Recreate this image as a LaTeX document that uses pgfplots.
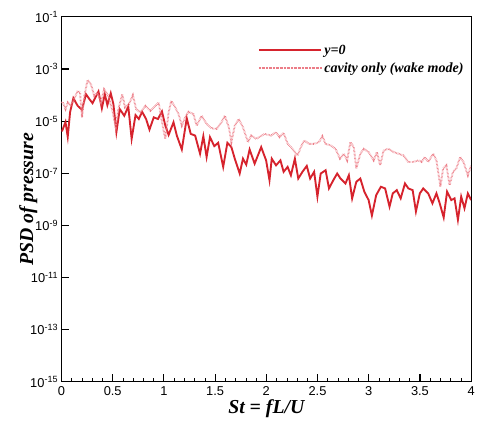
\documentclass[border=0pt]{standalone}
\usepackage{pgfplots}
\pgfplotsset{compat=1.18}
\usepackage{fontspec}
\setmainfont{Liberation Sans}
\newfontfamily\timesf{Liberation Serif}
\definecolor{solidred}{RGB}{214,35,45}
\definecolor{dotpink}{RGB}{236,125,135}
\begin{document}
\begin{tikzpicture}
\begin{axis}[
  scale only axis,
  width=413bp, height=368bp,
  ymode=log,
  xmin=0, xmax=4, ymin=1e-15, ymax=1e-1,
  xtick={0,0.5,1,1.5,2,2.5,3,3.5,4},
  xticklabels={0,0.5,1,1.5,2,2.5,3,3.5,4},
  minor x tick num=4,
  ytick={1e-1,1e-3,1e-5,1e-7,1e-9,1e-11,1e-13,1e-15},
  yticklabels={10\textsuperscript{-1},10\textsuperscript{-3},10\textsuperscript{-5},10\textsuperscript{-7},10\textsuperscript{-9},10\textsuperscript{-11},10\textsuperscript{-13},10\textsuperscript{-15}},
  yminorticks=false,
  tick align=inside,
  tick pos=left,
  major tick length=8bp,
  minor tick length=4bp,
  every tick/.style={black, line width=1.2pt},
  minor tick style={line width=0.6pt},
  axis line style={line width=1.2pt},
  ticklabel style={font=\fontsize{13}{15}\selectfont},
  xticklabel style={yshift=-1bp},
  xlabel={{\timesf\bfseries\itshape St = fL/U}},
  ylabel={{\timesf\bfseries\itshape PSD of pressure}},
  label style={font=\fontsize{20}{24}\selectfont},
  xlabel style={yshift=3bp},
  ylabel style={yshift=-14bp},
  legend style={at={(0.472,0.935)}, anchor=north west, draw=none, fill=none,
    font=\timesf\bfseries\itshape\fontsize{14.2}{17}\selectfont, row sep=3bp},
  legend cell align=left,
  legend image code/.code={\draw[#1] (0bp,0bp) -- (63bp,0bp);},
]
\addplot[solidred, line width=1.9pt] coordinates {
(0.000,4.3e-6) (0.007,4.3e-6) (0.039,9.3e-6) (0.061,2.5e-6) (0.084,2.23e-5) (0.116,7.6e-5) (0.158,3.87e-5) (0.200,2.73e-5) (0.239,1.08e-4) (0.278,6.55e-5) (0.303,4.91e-5) (0.361,1.37e-4) (0.394,3.08e-5) (0.423,1.08e-4) (0.448,4.12e-5) (0.481,1.18e-4) (0.507,4.5e-5) (0.536,3.77e-6) (0.569,2.9e-5) (0.613,1.61e-5) (0.652,3.67e-5) (0.685,2.09e-6) (0.723,1.71e-5) (0.755,1.21e-5) (0.787,2.29e-5) (0.826,1.21e-5) (0.859,4.73e-6) (0.901,1.4e-5) (0.942,1.21e-5) (0.981,2.37e-5) (1.014,6.71e-6) (1.046,2.98e-6) (1.094,9.05e-6) (1.126,2.8e-6) (1.175,8.2e-7) (1.223,1.29e-5) (1.262,3.25e-6) (1.305,2.8e-6) (1.353,5.64e-7) (1.385,2.65e-6) (1.417,4.22e-7) (1.450,2.43e-6) (1.492,1.1e-6) (1.530,1.48e-6) (1.579,1.76e-7) (1.620,1.48e-6) (1.659,1.01e-6) (1.692,3.64e-7) (1.740,9.8e-8) (1.772,3.64e-7) (1.804,2.15e-7) (1.837,8.2e-7) (1.886,2.34e-7) (1.950,1.01e-6) (1.998,3.13e-7) (2.031,5.43e-8) (2.053,3.64e-7) (2.095,2.02e-7) (2.138,3.13e-7) (2.169,1.14e-7) (2.208,1.76e-7) (2.240,8.4e-8) (2.279,3.64e-7) (2.312,6.3e-8) (2.353,1.14e-7) (2.395,1.92e-7) (2.428,6.3e-8) (2.467,1.14e-7) (2.499,1.27e-8) (2.531,9.8e-8) (2.579,1.31e-7) (2.612,2.63e-8) (2.654,5.43e-8) (2.692,9.8e-8) (2.724,6.3e-8) (2.773,4.07e-8) (2.806,8.4e-8) (2.838,1.09e-8) (2.879,4.72e-8) (2.918,6.3e-8) (2.957,1.97e-8) (2.999,9.4e-9) (3.031,2.4e-9) (3.073,1.46e-8) (3.119,3.05e-8) (3.160,2.63e-8) (3.203,5.28e-9) (3.235,1.69e-8) (3.274,2.26e-8) (3.312,1.09e-8) (3.354,4.07e-8) (3.387,2.63e-8) (3.429,2.26e-8) (3.461,3.41e-9) (3.499,1.69e-8) (3.532,2.63e-8) (3.581,1.69e-8) (3.622,7.06e-9) (3.661,1.69e-8) (3.693,7.06e-9) (3.732,2.02e-9) (3.765,1.97e-8) (3.806,9.4e-9) (3.838,1.09e-8) (3.871,1.64e-9) (3.903,1.27e-8) (3.935,4.56e-9) (3.968,1.69e-8) (4.000,9.4e-9)
};
\addlegendentry{y=0}
\addplot[dotpink, line width=1.9pt, dash pattern=on 0.55pt off 0.85pt] coordinates {
(0.000,5.2e-5) (0.013,5.21e-5) (0.039,2.9e-5) (0.061,5.21e-5) (0.094,3.87e-5) (0.158,1.44e-4) (0.181,1.25e-4) (0.200,1.4e-5) (0.223,9.3e-5) (0.255,3.78e-4) (0.288,2.59e-4) (0.320,9.3e-5) (0.352,1.25e-4) (0.385,5.21e-5) (0.416,1.67e-4) (0.458,9.3e-5) (0.497,2.5e-5) (0.530,5.83e-6) (0.555,2.9e-5) (0.594,1.08e-4) (0.620,3.37e-5) (0.659,4.5e-5) (0.697,9.9e-5) (0.729,2.9e-5) (0.772,2.17e-5) (0.820,3.87e-5) (0.869,2.5e-5) (0.917,3.87e-5) (0.949,5.21e-5) (0.988,6.71e-6) (1.014,2.09e-6) (1.046,2.17e-5) (1.072,6.0e-5) (1.111,3.37e-5) (1.143,1.87e-5) (1.175,6.71e-6) (1.208,1.4e-5) (1.240,2.29e-5) (1.288,1.87e-5) (1.320,6.71e-6) (1.368,1.61e-5) (1.417,7.8e-6) (1.465,5.35e-6) (1.514,5.04e-6) (1.562,9.05e-6) (1.595,1.61e-5) (1.634,5.83e-6) (1.659,1.57e-6) (1.692,6.71e-6) (1.731,1.21e-5) (1.772,5.83e-6) (1.821,1.57e-6) (1.853,2.8e-6) (1.901,2.09e-6) (1.956,2.8e-6) (1.983,3.25e-6) (2.046,2.8e-6) (2.095,3.77e-6) (2.128,2.43e-6) (2.169,3.55e-6) (2.208,1.35e-6) (2.240,1.01e-6) (2.279,6.53e-7) (2.305,4.85e-7) (2.337,1.01e-6) (2.370,1.81e-6) (2.418,1.35e-6) (2.467,1.35e-6) (2.515,1.57e-6) (2.547,2.65e-6) (2.579,1.35e-6) (2.628,1.17e-6) (2.676,8.7e-7) (2.719,3.64e-7) (2.757,5.64e-7) (2.789,3.13e-7) (2.821,1.57e-6) (2.854,1.01e-6) (2.879,1.51e-7) (2.918,5.64e-7) (2.951,8.7e-7) (2.999,6.53e-7) (3.048,3.13e-7) (3.080,6.53e-7) (3.112,2.02e-7) (3.145,7.5e-7) (3.193,8.7e-7) (3.242,6.53e-7) (3.290,5.64e-7) (3.339,4.85e-7) (3.387,2.72e-7) (3.435,2.72e-7) (3.484,3.13e-7) (3.516,2.72e-7) (3.548,4.22e-7) (3.581,2.72e-7) (3.629,5.64e-7) (3.661,3.13e-7) (3.700,3.05e-8) (3.726,1.51e-7) (3.758,2.02e-7) (3.790,3.51e-8) (3.823,1.14e-7) (3.855,1.51e-7) (3.893,4.22e-7) (3.925,2.72e-7) (3.968,8.4e-8) (4.000,2.02e-7)
};
\addlegendentry{cavity only (wake mode)}
\draw[line width=1.2pt] (rel axis cs:0,1) -- (rel axis cs:1,1) -- (rel axis cs:1,0);
\end{axis}
\useasboundingbox (current axis.south west) ++(-62bp,-44bp) rectangle ([xshift=3bp,yshift=17bp]current axis.north east);
\end{tikzpicture}
\end{document}
